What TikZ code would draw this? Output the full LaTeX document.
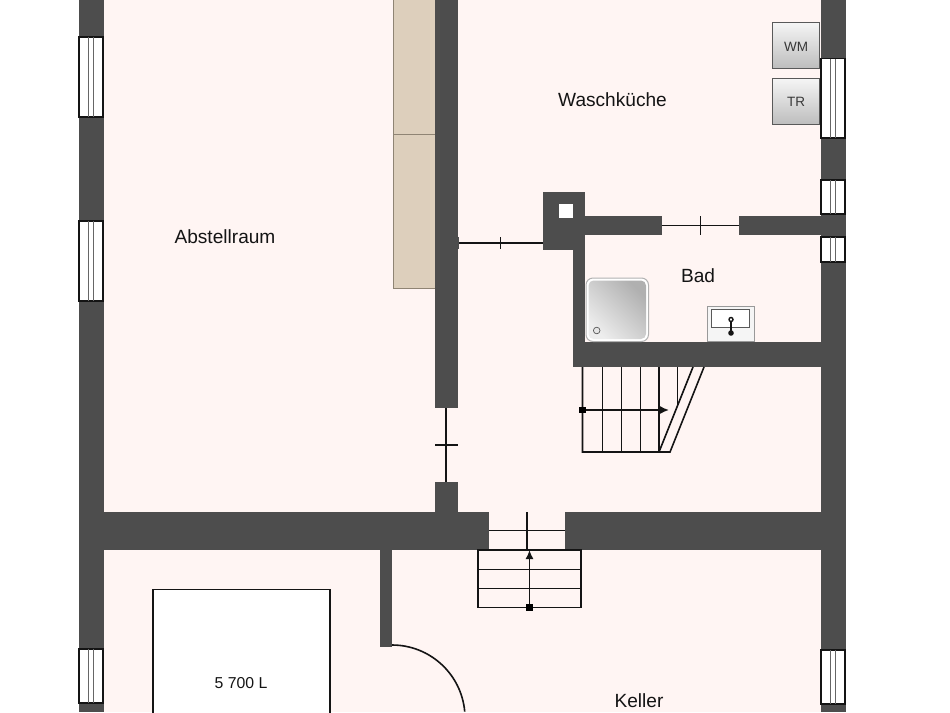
\documentclass[tikz,border=0pt]{standalone}
\usepackage{fontspec}
\usetikzlibrary{arrows.meta}
\setmainfont{Liberation Sans}
\definecolor{wallc}{HTML}{4D4D4D}
\definecolor{floorc}{HTML}{FFF5F3}
\definecolor{cabc}{HTML}{DDCFBC}
\definecolor{cabl}{HTML}{8F8474}
\definecolor{ink}{HTML}{141414}
\tikzset{
  wall/.style={fill=wallc,draw=none},
  winbox/.style={fill=white,draw=ink,line width=1.3pt},
  winline/.style={draw=gray!80!black,line width=0.9pt},
  doorline/.style={draw=ink,line width=1.6pt},
  stairline/.style={draw=ink,line width=1.6pt},
  appliance/.style={draw=gray!70!black,line width=1pt,top color=white!96!black,bottom color=white!74!black},
  roomlabel/.style={font=\fontsize{19.1}{22}\selectfont,text=ink,inner sep=0pt},
  smalllabel/.style={font=\fontsize{15.8}{18}\selectfont,text=ink,inner sep=0pt},
  applabel/.style={font=\fontsize{13.5}{16}\selectfont,text=ink!85,inner sep=0pt},
}
\begin{document}
\begin{tikzpicture}[x=1pt,y=-1pt]
\useasboundingbox (0,0) rectangle (950,712);
\fill[white] (0,0) rectangle (950,712);
\fill[floorc] (103,0) rectangle (821,712);
% cupboards
\draw[fill=cabc,draw=cabl,line width=1pt] (393,-2) rectangle (435,134);
\draw[fill=cabc,draw=cabl,line width=1pt] (393,134) rectangle (435,288);
% tank
\draw[fill=white,draw=ink,line width=1.5pt] (153,589.5) rectangle (330,716);
% outer walls
\fill[wall] (78.5,0) rectangle (103.5,712);
\fill[wall] (821,0) rectangle (845.5,712);
% inner walls
\fill[wall] (435,0) rectangle (457.5,408);
\fill[wall] (457,237) rectangle (459,249);
\fill[wall] (435,482) rectangle (457.5,513);
\fill[wall] (103,512) rectangle (488.5,549.5);
\fill[wall] (565,512) rectangle (821,549.5);
\fill[wall] (380,549) rectangle (392,647);
\fill[wall] (543,191.5) rectangle (585,249.5);
\fill[white] (558.5,203.5) rectangle (573,218);
\fill[wall] (585,216) rectangle (662,235);
\fill[wall] (739,216) rectangle (821,235);
\fill[wall] (573,249) rectangle (585,367);
\fill[wall] (573,341.7) rectangle (821,367);
% windows left
\foreach \a/\b in {37/117,221/301,649/703}{
  \draw[winbox] (79,\a) rectangle (103,\b);
  \draw[winline] (88.5,\a) -- (88.5,\b) (93.5,\a) -- (93.5,\b);
}
% windows right
\foreach \a/\b in {58.5/138,180/214,237/262,650/704}{
  \draw[winbox] (821,\a) rectangle (845,\b);
  \draw[winline] (830,\a) -- (830,\b) (835,\a) -- (835,\b);
}
% doors
\coordinate (d1a) at (459,243); \coordinate (d1b) at (543,243);
\draw[doorline] (d1a) -- (d1b);
\draw[doorline] (500.5,237) -- (500.5,249);
\coordinate (d2a) at (662,225.5); \coordinate (d2b) at (739,225.5);
\draw[doorline] (d2a) -- (d2b);
\draw[doorline] (700.5,216) -- (700.5,235);
\coordinate (d3a) at (446,408); \coordinate (d3b) at (446,482);
\draw[doorline] (d3a) -- (d3b);
\draw[doorline] (435,445) -- (457.5,445);
\draw[doorline] (488.5,530.5) -- (565,530.5);
\draw[doorline] (527,512) -- (527,550);
\draw[doorline] (392,645) arc[start angle=-90,end angle=-5,radius=73];
% lower stair
\draw[stairline] (478,550) rectangle (581,607.5);
\draw[stairline] (478,569.5) -- (581,569.5) (478,588.5) -- (581,588.5);
\draw[stairline,-{Latex[length=9pt,width=8pt]}] (529.5,607.5) -- (529.5,550);
\fill[black] (526.3,604.3) rectangle (532.7,610.7);
% upper stair
\draw[stairline] (582.5,367) -- (582.5,452) -- (670,452) -- (704,367);
\draw[stairline] (659,452) -- (693,367);
\foreach \x in {602.3,621.3,640.3,659}{\draw[stairline] (\x,367) -- (\x,452);}
\draw[stairline] (677.6,367) -- (677.6,407);
\draw[stairline,-{Latex[length=9pt,width=8pt]}] (582.5,410) -- (669,410);
\fill[black] (579.3,406.8) rectangle (585.7,413.2);
% shower
\draw[draw=gray!60,fill=white,line width=1pt,rounded corners=7pt] (586,278) rectangle (648.5,341.5);
\shade[top color=gray!62,bottom color=gray!14,shading angle=-45,rounded corners=5pt]
  (588.5,280.5) rectangle (646,339);
\draw[draw=gray!70!black,line width=0.7pt,fill=white!90!black] (596.7,330.5) circle (3.3);
% sink
\draw[draw=gray!80,line width=1pt,fill=white!96!black] (707.3,306) rectangle (754,341.5);
\draw[draw=gray!70!black,line width=1.4pt,fill=white] (711.5,309.5) rectangle (749.5,327.5);
\draw[ink,line width=1.2pt] (731,319) -- (731,333);
\draw[ink,line width=1.4pt,fill=white] (731,319.5) circle (2);
\fill[ink] (731,333) circle (2.8);
% appliances
\node[appliance,minimum width=47.5pt,minimum height=46pt,inner sep=0pt,anchor=center] (wm) at (796,45.7) {};
\node[applabel] (wmt) at (796,46.5) {WM};
\node[appliance,minimum width=47.5pt,minimum height=46pt,inner sep=0pt,anchor=center] (tr) at (796,101.8) {};
\node[applabel] (trt) at (796,101.5) {TR};
% labels
\node[roomlabel] (wk) at (612.5,99.5) {Waschküche};
\node[roomlabel] (ab) at (225,236.5) {Abstellraum};
\node[roomlabel] (bad) at (698,275.5) {Bad};
\node[roomlabel] (kl) at (639,700.5) {Keller};
\node[smalllabel] (tank) at (241,683) {5 700 L};
\end{tikzpicture}
\end{document}
